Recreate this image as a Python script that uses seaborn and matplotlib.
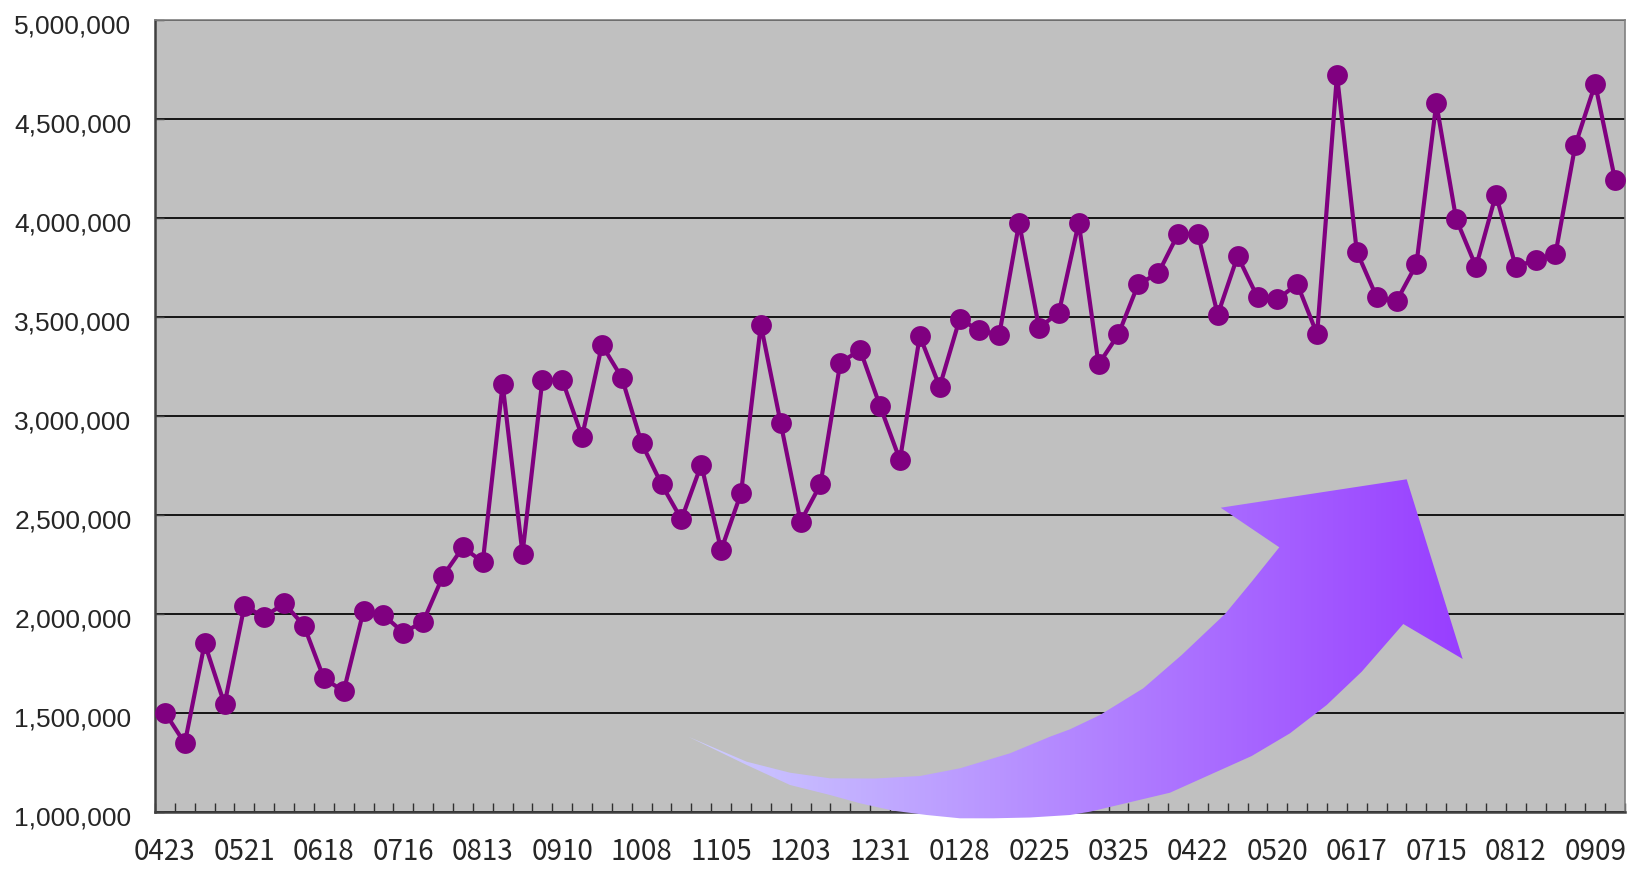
import numpy as np
import pandas as pd
import matplotlib
matplotlib.use("Agg")
import matplotlib.pyplot as plt
import matplotlib.transforms as mtrans
import seaborn as sns
from matplotlib.patches import Polygon
from matplotlib.ticker import FuncFormatter, MultipleLocator

# ---- data -------------------------------------------------------------
tick_labels = ["0423", "0521", "0618", "0716", "0813", "0910", "1008", "1105",
               "1203", "1231", "0128", "0225", "0325", "0422", "0520", "0617",
               "0715", "0812", "0909"]

values = [1502000, 1347000, 1852000, 1544000, 2040000, 1985000, 2054000, 1941000,
          1675000, 1610000, 2017000, 1995000, 1906000, 1961000, 2193000, 2337000,
          2262000, 3160000, 2305000, 3182000, 3182000, 2896000, 3359000, 3193000,
          2862000, 2655000, 2478000, 2754000, 2323000, 2610000, 3460000, 2963000,
          2466000, 2655000, 3270000, 3333000, 3050000, 2778000, 3404000, 3148000,
          3488000, 3434000, 3410000, 3976000, 3446000, 3522000, 3976000, 3261000,
          3413000, 3667000, 3720000, 3919000, 3919000, 3512000, 3808000, 3600000,
          3589000, 3667000, 3413000, 4722000, 3830000, 3600000, 3580000, 3766000,
          4579000, 3995000, 3754000, 4118000, 3754000, 3788000, 3818000, 4369000,
          4677000, 4192000]

df = pd.DataFrame({"week": np.arange(len(values)), "value": values})

# ---- figure -----------------------------------------------------------
sns.set_theme(style="white")
plt.rcParams["font.family"] = ["Liberation Sans", "DejaVu Sans"]

W, H = 1628, 869
fig = plt.figure(figsize=(W / 100, H / 100), dpi=100)
fig.patch.set_facecolor("white")

ax = fig.add_axes([155 / W, (H - 812) / H, 1470 / W, (812 - 20) / H])
ax.set_facecolor("#C0C0C0")

sns.lineplot(data=df, x="week", y="value", ax=ax, color="#800080",
             linewidth=3.0, marker="o", markersize=15, markeredgewidth=0,
             zorder=5)

ax.set_xlim(-0.5, len(values) - 0.5)
ax.set_ylim(1_000_000, 5_000_000)
ax.set_xlabel("")
ax.set_ylabel("")

# grid
ax.yaxis.set_major_locator(MultipleLocator(500_000))
ax.grid(axis="y", color="#151515", linewidth=1.4)
ax.grid(axis="x", visible=False)
ax.set_axisbelow(True)

ax.yaxis.set_major_formatter(FuncFormatter(lambda v, p: f"{int(v):,}"))
ax.tick_params(axis="y", direction="in", length=6.5, width=1, color="#404040",
               labelsize=19, pad=17, left=True)
shift = mtrans.ScaledTranslation(0, -4 / 100, fig.dpi_scale_trans)
for lab in ax.get_yticklabels():
    lab.set_transform(lab.get_transform() + shift)

ax.set_xticks(np.arange(0, len(values), 4))
ax.set_xticklabels(tick_labels, fontsize=20, family=["Noto Sans CJK JP", "DejaVu Sans"])
ax.set_xticks(np.arange(-0.5, len(values), 1.0), minor=True)
ax.tick_params(axis="x", which="major", length=0, pad=18)
ax.tick_params(axis="x", which="minor", direction="in", length=6.5, width=1,
               color="#303030", bottom=True)

for side in ("left", "bottom"):
    ax.spines[side].set_color("#404040")
    ax.spines[side].set_linewidth(1.8)
for side in ("top", "right"):
    ax.spines[side].set_color("#808080")
    ax.spines[side].set_linewidth(1.2)
    ax.spines[side].set_visible(True)

# ---- decorative curved gradient arrow (pixel space overlay) -----------
ov = fig.add_axes([0, 0, 1, 1], zorder=10)
ov.set_xlim(0, W)
ov.set_ylim(H, 0)
ov.axis("off")
ov.patch.set_alpha(0)

arrow_pts = [
    (688.3, 736.7), (746.7, 761.7), (790, 772.7), (830, 778.3), (875, 778.5),
    (920, 776), (960, 768.3), (1010, 753.3), (1050, 736.7), (1070, 729.3),
    (1100, 715), (1143.3, 688.3), (1181.7, 655), (1225, 614), (1251.7, 581.7),
    (1279.3, 547.3), (1220.7, 507.7), (1406.7, 479.3), (1462.7, 659),
    (1403.3, 624), (1361.7, 671.7), (1326.7, 705), (1290, 733.3),
    (1251.7, 756), (1170, 792.7), (1090, 811.7), (1070, 815), (1030, 817.5),
    (993.3, 818.3), (960, 818.3), (926.7, 815), (893.3, 810.7), (860, 803.3),
    (830, 795), (790, 785), (746.7, 765),
]
poly = Polygon(arrow_pts, closed=True, facecolor="none", edgecolor="none")
ov.add_patch(poly)

x0, x1 = 688, 1463
t = np.linspace(0, 1, 256)
c0 = np.array([206, 206, 255]) / 255
c1 = np.array([152, 62, 255]) / 255
grad = (c0[None, :] * (1 - t[:, None]) + c1[None, :] * t[:, None])[None, :, :]
im = ov.imshow(grad, extent=[x0, x1, 822, 476], aspect="auto",
               interpolation="bilinear", zorder=11)
im.set_clip_path(poly)
ov.set_xlim(0, W)
ov.set_ylim(H, 0)

fig.savefig("out.png", dpi=100, facecolor="white")
